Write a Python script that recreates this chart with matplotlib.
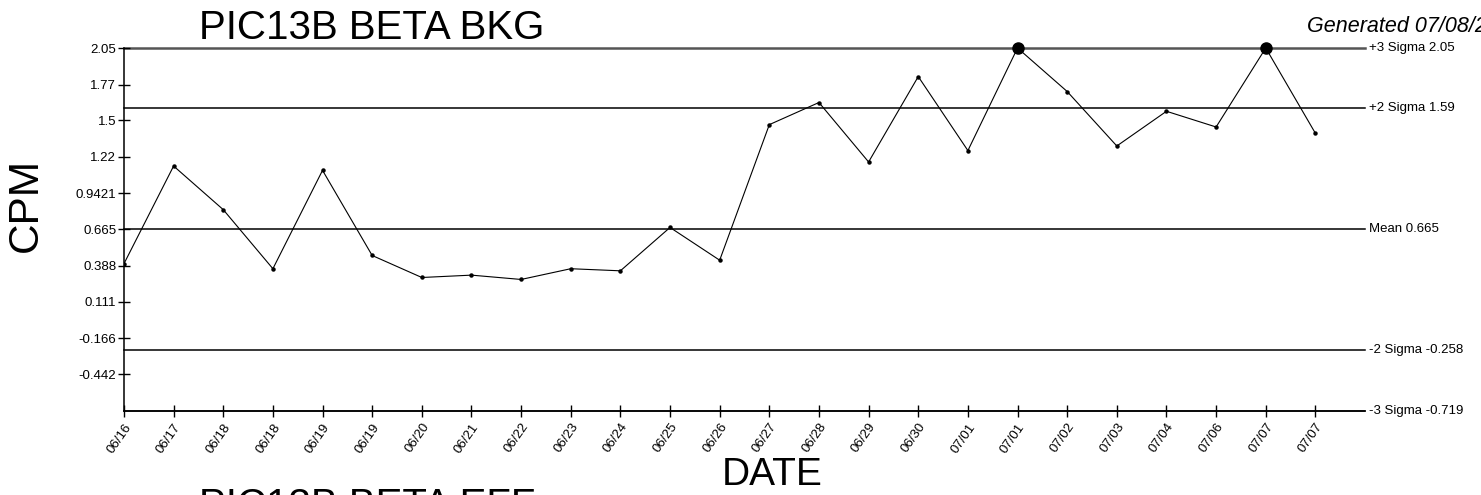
import matplotlib
matplotlib.use("Agg")
import matplotlib.pyplot as plt

plt.rcParams['font.family'] = ['Liberation Sans', 'DejaVu Sans']

# x axis labels (one per sample)
dates = ['06/16', '06/17', '06/18', '06/18', '06/19', '06/19', '06/20', '06/21',
         '06/22', '06/23', '06/24', '06/25', '06/26', '06/27', '06/28', '06/29',
         '06/30', '07/01', '07/01', '07/02', '07/03', '07/04', '07/06', '07/07',
         '07/07']
cpm = [0.403, 1.149, 0.816, 0.365, 1.116, 0.466, 0.298, 0.316,
       0.283, 0.365, 0.349, 0.680, 0.430, 1.465, 1.634, 1.180,
       1.832, 1.267, 2.05, 1.718, 1.302, 1.567, 1.447, 2.05,
       1.399]

# control limits
limit_names = ['+3 Sigma', '+2 Sigma', 'Mean', '-2 Sigma', '-3 Sigma']
limit_values = [2.05, 1.59, 0.665, -0.258, -0.719]
ytick_values = [2.05, 1.77, 1.5, 1.22, 0.9421, 0.665, 0.388, 0.111, -0.166, -0.442]
ytick_labels = ['2.05', '1.77', '1.5', '1.22', '0.9421', '0.665', '0.388', '0.111', '-0.166', '-0.442']

fig = plt.figure(figsize=(14.81, 4.95), dpi=100)
ax = fig.add_axes([0.0837, 0.1703, 0.8380, 0.7327])

x = list(range(len(cpm)))
ax.set_xlim(0, 25)
ax.set_ylim(limit_values[-1], limit_values[0])

for name, val in zip(limit_names, limit_values):
    if name == '+3 Sigma':
        ax.axhline(val, color='#555555', lw=1.8, zorder=1, clip_on=False)
    else:
        ax.axhline(val, color='black', lw=1.1, zorder=1, clip_on=False)
    ax.text(25.07, val, f'{name} {val:g}', fontsize=9.5, va='center', ha='left')

ax.plot(x, cpm, color='black', lw=0.8, marker='o', markersize=2.2, zorder=3)

# points outside the +3 sigma limit get a big dot
out_x = [i for i, v in enumerate(cpm) if v >= limit_values[0]]
out_y = [cpm[i] for i in out_x]
ax.plot(out_x, out_y, 'o', color='black', markersize=8, zorder=4, clip_on=False)

ax.set_yticks(ytick_values)
ax.set_yticklabels(ytick_labels, fontsize=9.5)
ax.set_xticks(x)
ax.set_xticklabels(dates, fontsize=9.5, rotation=55, ha='right', va='top',
                   rotation_mode='anchor')
ax.tick_params(axis='both', direction='inout', length=9, width=1, color='black')
ax.tick_params(axis='x', pad=3)
ax.tick_params(axis='y', pad=1)

for side in ['top', 'right']:
    ax.spines[side].set_visible(False)
for side in ['left', 'bottom']:
    ax.spines[side].set_linewidth(1.1)

fig.text(199 / 1481, 1 - 39 / 495, 'PIC13B BETA BKG', fontsize=29, va='baseline', ha='left')
fig.text(1307 / 1481, 1 - 32 / 495, 'Generated 07/08/2024', fontsize=15.5,
         style='italic', va='baseline', ha='left')
fig.text(772 / 1481, 1 - 485 / 495, 'DATE', fontsize=28, va='baseline', ha='center')
fig.text(26 / 1481, 1 - 205 / 495, 'CPM', fontsize=30.5, rotation=90, va='center', ha='center')
fig.text(199 / 1481, 1 - 487 / 495, 'PIC13B BETA EFF', fontsize=29, va='top', ha='left')

fig.savefig('out.png', dpi=100)
